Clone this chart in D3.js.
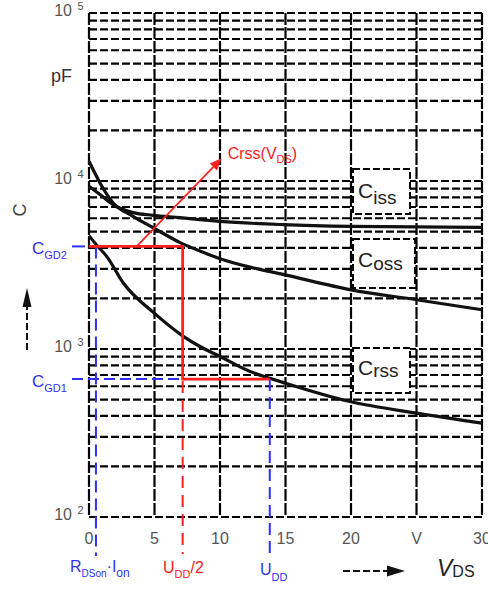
<!DOCTYPE html>
<html><head><meta charset="utf-8">
<script src="https://cdn.jsdelivr.net/npm/d3@7"></script>
<style>html,body{margin:0;padding:0;background:#fff;} svg{display:block;font-family:"Liberation Sans",Arial,Helvetica,sans-serif;}</style>
</head><body><svg id="c" width="488" height="589"></svg>
<script>
// ---- data ----
const xTicks = [0, 5, 10, 15, 20, 25, 30];
const xTickLabels = ["0", "5", "10", "15", "20", "V", "30"];
const yDecades = [100, 1000, 10000, 100000];
const yDecadeExp = ["2", "3", "4", "5"];

const cissV = [0, 0.84, 1.83, 3.36, 4.89, 6.95, 8.47, 10, 14.8, 20, 25, 30];
const cissC = [9300, 8300, 7230, 6480, 6250, 6050, 5890, 5750, 5500, 5370, 5330, 5300];

const cossV = [0, 0.84, 1.83, 3.36, 4.89, 6.95, 8.47, 10, 12.3, 14.8, 20, 25, 30];
const cossC = [13100, 9740, 7430, 6160, 5280, 4300, 3830, 3450, 3070, 2780, 2250, 1965, 1712];

const crssV = [0, 0.59, 1.35, 2.62, 4.96, 7.2, 8.47, 10, 12.3, 13.8, 14.8, 20, 25, 30];
const crssC = [4730, 4150, 3560, 2470, 1640, 1190, 1035, 902, 734, 670, 633, 485, 415, 362];

const legendSubs = ["iss", "oss", "rss"];

const cGD2 = 4080, cGD1 = 662;
const vOn = 0.53, vHalf = 7.15, vDD = 13.8;
const arrowFrom = [3.64, 4080], arrowTo = [10.13, 13650];

// ---- scales ----
const svg = d3.select("#c");
const x = d3.scaleLinear().domain([0, 30]).range([89, 482]);
const y = d3.scaleLog().domain([100, 100000]).range([517, 13]);

const BLUE = "#2f2ff5", RED = "#ff2020", GRID = "#000", GRAY = "#555";

// ---- grid ----
const hVals = [];
yDecades.slice(0, 3).forEach(d => { for (let m = 1; m <= 9; m++) hVals.push(m * d); });
hVals.push(100000);
const grid = svg.append("g").attr("stroke", GRID).attr("stroke-width", 2.2).attr("stroke-dasharray", "8,3").attr("fill", "none");
grid.selectAll("line.h").data(hVals).join("line").attr("class", "h")
  .attr("x1", x(0)).attr("x2", x(30)).attr("y1", d => y(d)).attr("y2", d => y(d));
grid.selectAll("line.v").data(xTicks).join("line").attr("class", "v")
  .attr("x1", d => x(d)).attr("x2", d => x(d)).attr("y1", y(100000)).attr("y2", y(100))
  .attr("stroke-dasharray", "12,2");

// ---- legend boxes ----
const boxes = [
  {sub: legendSubs[0], x0: 353, x1: 410, y0: 169, y1: 214, cb: 198, sb: 204},
  {sub: legendSubs[1], x0: 353, x1: 415, y0: 239, y1: 288, cb: 267, sb: 270},
  {sub: legendSubs[2], x0: 353, x1: 410, y0: 348, y1: 393, cb: 375, sb: 377}
];
const lg = svg.append("g");
boxes.forEach(b => {
  lg.append("rect").attr("x", b.x0).attr("y", b.y0).attr("width", b.x1 - b.x0).attr("height", b.y1 - b.y0)
    .attr("fill", "#fff").attr("stroke", GRID).attr("stroke-width", 2).attr("stroke-dasharray", "7,3");
  const t = lg.append("text").attr("x", 358).attr("y", b.cb).attr("fill", "#222");
  t.append("tspan").attr("font-size", 21).text("C");
  t.append("tspan").attr("font-size", 19).attr("dy", b.sb - b.cb).text(b.sub);
});

// ---- curves ----
const line = d3.line().x(d => x(d[0])).y(d => y(d[1])).curve(d3.curveMonotoneX);
[[cissV, cissC], [cossV, cossC], [crssV, crssC]].forEach(([vs, cs]) => {
  svg.append("path").attr("d", line(vs.map((v, i) => [v, cs[i]])))
    .attr("fill", "none").attr("stroke", "#111").attr("stroke-width", 3.2);
});

// ---- blue annotations ----
const blue = svg.append("g").attr("stroke", BLUE).attr("stroke-width", 2).attr("fill", "none");
blue.append("line").attr("x1", x(0) - 17).attr("x2", x(0) - 4).attr("y1", y(cGD2)).attr("y2", y(cGD2));
blue.append("line").attr("x1", x(0) - 17).attr("x2", x(vDD)).attr("y1", y(cGD1)).attr("y2", y(cGD1)).attr("stroke-dasharray", "11,5");
blue.append("line").attr("x1", x(vOn)).attr("x2", x(vOn)).attr("y1", y(cGD2)).attr("y2", 556).attr("stroke-dasharray", "12,6");
blue.append("line").attr("x1", x(vDD)).attr("x2", x(vDD)).attr("y1", y(cGD1)).attr("y2", 556).attr("stroke-dasharray", "12,6");

// ---- red annotations ----
const red = svg.append("g").attr("stroke", RED).attr("fill", "none");
red.append("path").attr("stroke-width", 2.8)
  .attr("d", d3.line()([[x(0), y(cGD2)], [x(vHalf), y(cGD2)], [x(vHalf), y(cGD1)], [x(vDD), y(cGD1)]]));
red.append("line").attr("stroke-width", 2).attr("stroke-dasharray", "12,7")
  .attr("x1", x(vHalf)).attr("x2", x(vHalf)).attr("y1", y(cGD1) + 2).attr("y2", 554);
// arrow
const ax0 = x(arrowFrom[0]), ay0 = y(arrowFrom[1]), ax1 = x(arrowTo[0]), ay1 = y(arrowTo[1]);
const ang = Math.atan2(ay1 - ay0, ax1 - ax0), hl = 12, hw = 5;
const bx = ax1 - hl * Math.cos(ang), by = ay1 - hl * Math.sin(ang);
red.append("line").attr("stroke-width", 1.7).attr("x1", ax0).attr("y1", ay0).attr("x2", bx).attr("y2", by);
svg.append("path").attr("fill", RED)
  .attr("d", `M${ax1},${ay1}L${bx + hw * Math.sin(ang)},${by - hw * Math.cos(ang)}L${bx - hw * Math.sin(ang)},${by + hw * Math.cos(ang)}Z`);
const rl = svg.append("text").attr("x", ax1 + 6).attr("y", 158.5).attr("fill", RED).attr("font-size", 16);
rl.append("tspan").text("Crss(V");
rl.append("tspan").attr("font-size", 11).attr("dy", 4).text("DS");
rl.append("tspan").attr("dy", -4).text(")");

// ---- y axis labels ----
yDecades.forEach((d, i) => {
  svg.append("text").attr("x", 72).attr("y", y(d) + 2.5).attr("text-anchor", "end")
    .attr("font-size", 16).attr("fill", GRAY).text("10");
  svg.append("text").attr("x", 77.5).attr("y", y(d) - 3.5).attr("font-size", 11).attr("fill", GRAY).text(yDecadeExp[i]);
});
svg.append("text").attr("x", 72).attr("y", 82).attr("text-anchor", "end").attr("font-size", 18).attr("fill", "#333").text("pF");
svg.append("text").attr("transform", "translate(26,210) rotate(-90)").attr("text-anchor", "middle")
  .attr("font-size", 18).attr("fill", "#444").text("C");
// up arrow
svg.append("line").attr("x1", 27).attr("x2", 27).attr("y1", 350).attr("y2", 304)
  .attr("stroke", "#111").attr("stroke-width", 2).attr("stroke-dasharray", "7,3");
svg.append("path").attr("d", "M27,288L22.5,307L31.5,307Z").attr("fill", "#111");

// C_GD labels
[[cGD2, "GD2"], [cGD1, "GD1"]].forEach(([c, s]) => {
  const t = svg.append("text").attr("x", 32).attr("y", y(c) + 8).attr("fill", BLUE).attr("font-size", 17);
  t.append("tspan").text("C");
  t.append("tspan").attr("font-size", 11).attr("dy", 5).text(s);
});

// ---- x axis labels ----
svg.append("g").selectAll("text").data(xTicks).join("text")
  .attr("x", d => x(d)).attr("y", 543.5).attr("text-anchor", "middle")
  .attr("font-size", 16).attr("fill", GRAY).text((d, i) => xTickLabels[i]);

// bottom annotation labels
const t1 = svg.append("text").attr("x", 70).attr("y", 572).attr("fill", BLUE).attr("font-size", 16);
t1.append("tspan").text("R");
t1.append("tspan").attr("font-size", 10).attr("dy", 5).text("DSon");
t1.append("tspan").attr("dy", -5).text("·I");
t1.append("tspan").attr("font-size", 12).attr("dy", 5).text("on");

const t2 = svg.append("text").attr("x", 163).attr("y", 573).attr("fill", RED).attr("font-size", 16);
t2.append("tspan").text("U");
t2.append("tspan").attr("font-size", 11).attr("dy", 5).text("DD");
t2.append("tspan").attr("dy", -5).text("/2");

const t3 = svg.append("text").attr("x", 260).attr("y", 575).attr("fill", BLUE).attr("font-size", 16);
t3.append("tspan").text("U");
t3.append("tspan").attr("font-size", 11).attr("dy", 6).text("DD");

// V_DS
const tv = svg.append("text").attr("x", 437).attr("y", 576).attr("fill", "#222");
tv.append("tspan").attr("font-size", 23).attr("font-style", "italic").text("V");
tv.append("tspan").attr("font-size", 16).attr("dy", 1).text("DS");
svg.append("line").attr("x1", 343).attr("x2", 390).attr("y1", 571).attr("y2", 571)
  .attr("stroke", "#111").attr("stroke-width", 2).attr("stroke-dasharray", "7,3");
svg.append("path").attr("d", "M405,571L387,565.5L387,576.5Z").attr("fill", "#111");
</script></body></html>
